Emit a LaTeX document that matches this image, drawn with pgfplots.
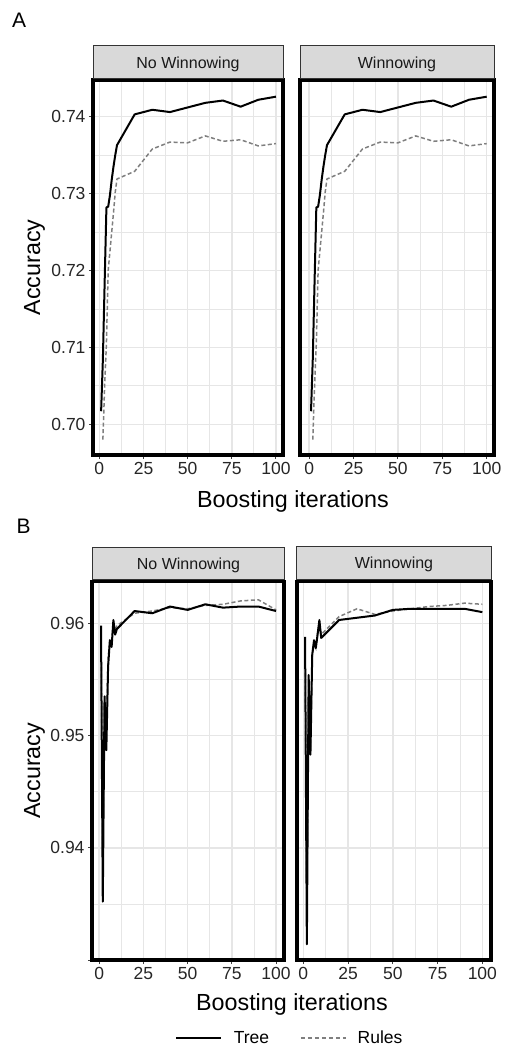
\documentclass[border=0pt]{standalone}
\usepackage{fontspec}
\setmainfont{Liberation Sans}
\usepackage{pgfplots}
\pgfplotsset{compat=1.18}
\usepackage{pgfplotstable}

\definecolor{stripfill}{HTML}{D9D9D9}
\definecolor{stripdraw}{HTML}{333333}
\definecolor{gridc}{HTML}{E6E6E6}
\definecolor{rulesc}{HTML}{7F7F7F}

% Panel A (same in both facets)
\pgfplotstableread{
x y
1 0.7017
2 0.7085
3 0.7185
4 0.7282
5 0.7283
6 0.7298
7 0.7318
8 0.7335
9 0.7350
10 0.7363
20 0.7403
30 0.7409
40 0.7406
50 0.7412
60 0.7418
70 0.7421
80 0.7413
90 0.7422
100 0.7426
}\AtreeT
\pgfplotstableread{
x y
2 0.6980
3 0.7050
4 0.7105
5 0.7200
6 0.7225
7 0.7250
8 0.7275
9 0.7302
10 0.7319
20 0.7329
30 0.7358
40 0.7367
50 0.7366
60 0.7375
70 0.7368
80 0.7370
90 0.7362
100 0.7365
}\ArulesT
% Panel B, No Winnowing
\pgfplotstableread{
x y
1 0.9598
2 0.9352
3 0.9535
4 0.9487
5 0.9561
6 0.9585
7 0.9579
8 0.9603
9 0.9590
10 0.9595
20 0.9611
30 0.9609
40 0.9615
50 0.9612
60 0.9617
70 0.9614
80 0.9615
90 0.9615
100 0.9611
}\BtreeNW
\pgfplotstableread{
x y
1 0.9590
2 0.9400
3 0.9530
4 0.9500
5 0.9570
6 0.9582
7 0.9585
8 0.9598
9 0.9595
10 0.9598
20 0.9609
30 0.9611
40 0.9614
50 0.9613
60 0.9616
70 0.9617
80 0.9620
90 0.9621
100 0.9612
}\BrulesNW
% Panel B, Winnowing
\pgfplotstableread{
x y
1 0.9588
2 0.9314
3 0.9554
4 0.9483
5 0.9572
6 0.9585
7 0.9578
8 0.9590
9 0.9603
10 0.9587
20 0.9603
30 0.9605
40 0.9607
50 0.9612
60 0.9613
70 0.9613
80 0.9613
90 0.9613
100 0.9610
}\BtreeW
\pgfplotstableread{
x y
1 0.9585
2 0.9350
3 0.9550
4 0.9490
5 0.9570
6 0.9582
7 0.9578
8 0.9592
9 0.9600
10 0.9590
20 0.9606
30 0.9613
40 0.9608
50 0.9611
60 0.9613
70 0.9615
80 0.9616
90 0.9618
100 0.9617
}\BrulesW

\pgfplotsset{
  panel/.style={
    scale only axis,
    anchor=north west,
    axis line style={line width=3.8pt, black},
    grid=both,
    major grid style={gridc, line width=1.5pt},
    minor grid style={gridc, line width=0.8pt},
    minor x tick num=1, minor y tick num=1,
    minor tick length=0pt,
    major tick length=4pt,
    tick align=outside,
    tick style={black!75, line width=1pt},
    xtick pos=bottom, ytick pos=left,
    xtick={0,25,50,75,100}, xticklabels={0,25,50,75,100},
    ticklabel style={font=\fontsize{17.5}{20}\selectfont, text=black!85},
    /pgf/number format/assume math mode=true,
  },
  rightpanel/.style={
    every major y tick/.style={draw=none},
  },
  tree/.style={black, line width=2pt, line join=round},
  rules/.style={rulesc, line width=1.5pt, dash pattern=on 4pt off 2.5pt},
}

\begin{document}
\begin{tikzpicture}
\useasboundingbox (0pt,0pt) rectangle (509pt,-1048pt);

% ---------- Panel A ----------
\begin{axis}[panel, at={(93pt,-80pt)}, width=190pt, height=375pt,
  xmin=-3.6, xmax=104, ymin=0.69601, ymax=0.74477,
  ytick={0.70,0.71,0.72,0.73,0.74}, yticklabels={0.70,0.71,0.72,0.73,0.74}]
  \addplot[rules, forget plot] table[x=x,y=y] {\ArulesT};
  \addplot[tree, forget plot] table[x=x,y=y] {\AtreeT};
\end{axis}
\begin{axis}[panel, rightpanel, at={(300pt,-80pt)}, width=194pt, height=375pt,
  xmin=-5.2, xmax=104.1, ymin=0.69601, ymax=0.74477,
  ytick={0.70,0.71,0.72,0.73,0.74}, yticklabels={{},{},{},{},{}}]
  \addplot[rules, forget plot] table[x=x,y=y] {\ArulesT};
  \addplot[tree, forget plot] table[x=x,y=y] {\AtreeT};
\end{axis}
\draw[fill=stripfill, draw=stripdraw, line width=0.9pt] (93pt,-78.3pt) rectangle (283pt,-45pt);
\draw[fill=stripfill, draw=stripdraw, line width=0.9pt] (300pt,-78.3pt) rectangle (494pt,-45pt);
\node[anchor=base, font=\fontsize{16}{19}\selectfont, text=black!90] at (188pt,-68.6pt) {No Winnowing};
\node[anchor=base, font=\fontsize{16}{19}\selectfont, text=black!90] at (397pt,-68.6pt) {Winnowing};
\node[anchor=base west, font=\fontsize{21}{24}\selectfont, inner sep=0pt] at (12pt,-27.5pt) {A};
\node[rotate=90, anchor=base, font=\fontsize{23.3}{27}\selectfont, inner sep=0pt] at (40pt,-267.5pt) {Accuracy};
\node[anchor=base, font=\fontsize{23.3}{27}\selectfont, inner sep=0pt] at (293pt,-507.5pt) {Boosting iterations};

% ---------- Panel B ----------
\begin{axis}[panel, at={(92pt,-581.5pt)}, width=192pt, height=378.5pt,
  xmin=-4.1, xmax=104.5, ymin=0.93, ymax=0.96373,
  ytick={0.93,0.94,0.95,0.96}, yticklabels={{},0.94,0.95,0.96},
  legend columns=2,
  legend image code/.code={\draw[#1] (0pt,0pt) -- (45pt,0pt);},
  legend style={at={(axis description cs:0.432,-0.206)}, anchor=west,
    draw=none, fill=none, inner sep=0pt,
    font=\fontsize{17.5}{20}\selectfont,
    nodes={inner sep=0pt},
    /tikz/every odd column/.append style={column sep=11pt},
    /tikz/every even column/.append style={column sep=31pt}},
  ]
  \addlegendimage{black, line width=2.7pt}
  \addlegendentry{Tree}
  \addlegendimage{rulesc, line width=1.5pt, dash pattern=on 4pt off 3pt}
  \addlegendentry{Rules}
  \addplot[rules, forget plot] table[x=x,y=y] {\BrulesNW};
  \addplot[tree, forget plot] table[x=x,y=y] {\BtreeNW};
\end{axis}
\begin{axis}[panel, rightpanel, at={(297pt,-581.5pt)}, width=194.3pt, height=378.5pt,
  xmin=-3.5, xmax=105, ymin=0.93, ymax=0.96373,
  ytick={0.93,0.94,0.95,0.96}, yticklabels={{},{},{},{}}]
  \addplot[rules, forget plot] table[x=x,y=y] {\BrulesW};
  \addplot[tree, forget plot] table[x=x,y=y] {\BtreeW};
\end{axis}
\draw[fill=stripfill, draw=stripdraw, line width=0.9pt] (92.5pt,-579.8pt) rectangle (284.5pt,-547pt);
\draw[fill=stripfill, draw=stripdraw, line width=0.9pt] (296.7pt,-579.8pt) rectangle (491pt,-546pt);
\node[anchor=base, font=\fontsize{16}{19}\selectfont, text=black!90] at (188.5pt,-569pt) {No Winnowing};
\node[anchor=base, font=\fontsize{16}{19}\selectfont, text=black!90] at (394pt,-568pt) {Winnowing};
\node[anchor=base west, font=\fontsize{21}{24}\selectfont, inner sep=0pt] at (16.5pt,-533pt) {B};
\node[rotate=90, anchor=base, font=\fontsize{23.3}{27}\selectfont, inner sep=0pt] at (40pt,-770.7pt) {Accuracy};
\node[anchor=base, font=\fontsize{23.3}{27}\selectfont, inner sep=0pt] at (292pt,-1010.7pt) {Boosting iterations};
\end{tikzpicture}
\end{document}
